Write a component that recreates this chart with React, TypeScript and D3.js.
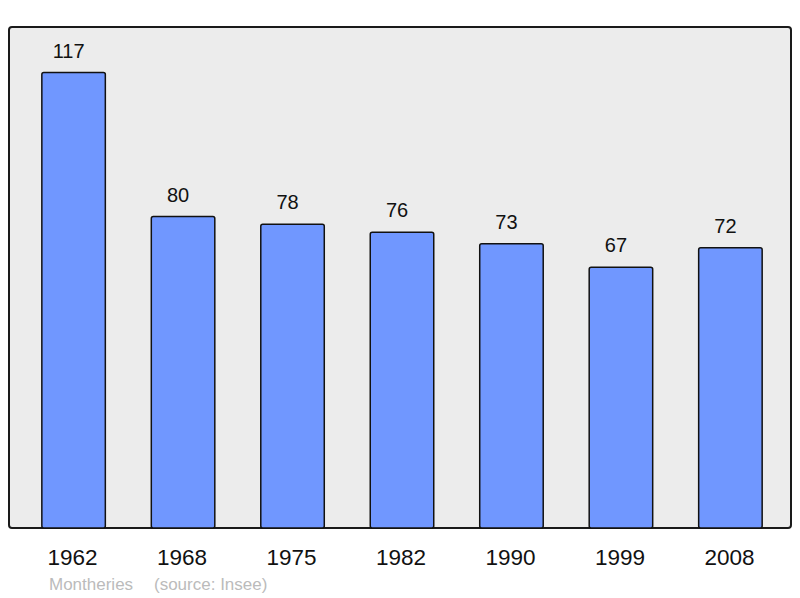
import React, { useRef, useEffect } from "react";
import * as d3 from "d3";

const YEARS = ["1962", "1968", "1975", "1982", "1990", "1999", "2008"];
const POPULATION = [117, 80, 78, 76, 73, 67, 72];
const COMMUNE = "Montheries";
const SOURCE = "(source: Insee)";

export default function App() {
  const svgRef = useRef<SVGSVGElement>(null);

  useEffect(() => {
    const width = 800, height = 598;
    const panel = { left: 9, top: 27, right: 791, bottom: 528 };

    const svg = d3.select(svgRef.current);
    svg.selectAll("*").remove();

    const x = d3.scaleBand<string>()
      .domain(YEARS)
      .range([9, 795])
      .paddingInner(0.42)
      .paddingOuter(0.3);

    const y = d3.scaleLinear()
      .domain([0, d3.max(POPULATION)! * 1.1])
      .range([panel.bottom, panel.top]);

    svg.append("rect")
      .attr("x", panel.left)
      .attr("y", panel.top)
      .attr("width", panel.right - panel.left)
      .attr("height", panel.bottom - panel.top)
      .attr("rx", 3)
      .attr("fill", "#ececec")
      .attr("stroke", "#1a1a1a")
      .attr("stroke-width", 2);

    const data = YEARS.map((year, i) => ({ year, value: POPULATION[i] }));

    svg.append("g")
      .selectAll("rect")
      .data(data)
      .join("rect")
      .attr("x", d => x(d.year)!)
      .attr("y", d => y(d.value))
      .attr("width", x.bandwidth())
      .attr("height", d => y(0) - y(d.value))
      .attr("rx", 2)
      .attr("fill", "#7097ff")
      .attr("stroke", "#111")
      .attr("stroke-width", 1.5);

    svg.append("g")
      .selectAll("text")
      .data(data)
      .join("text")
      .attr("x", d => x(d.year)! + x.bandwidth() / 2 - 5)
      .attr("y", d => y(d.value) - 15)
      .attr("text-anchor", "middle")
      .style("font-family", "'Liberation Sans', Arial, sans-serif")
      .style("font-size", "20px")
      .style("fill", "#111")
      .text(d => d.value);

    svg.append("g")
      .selectAll("text")
      .data(YEARS)
      .join("text")
      .attr("x", d => x(d)! + x.bandwidth() / 2 - 1)
      .attr("y", 565)
      .attr("text-anchor", "middle")
      .style("font-family", "'Liberation Sans', Arial, sans-serif")
      .style("font-size", "22.5px")
      .style("fill", "#111")
      .text(d => d);

    svg.append("text")
      .attr("x", 49)
      .attr("y", 590)
      .style("font-family", "'Liberation Sans', Arial, sans-serif")
      .style("font-size", "17px")
      .style("fill", "#bbbbbb")
      .text(COMMUNE);

    svg.append("text")
      .attr("x", 154)
      .attr("y", 590)
      .style("font-family", "'Liberation Sans', Arial, sans-serif")
      .style("font-size", "17px")
      .style("fill", "#bbbbbb")
      .text(SOURCE);

    svg.attr("width", width).attr("height", height);
  }, []);

  return (
    <svg
      ref={svgRef}
      width={800}
      height={598}
      style={{ position: "absolute", left: 0, top: 0, background: "#fff", display: "block" }}
    />
  );
}
